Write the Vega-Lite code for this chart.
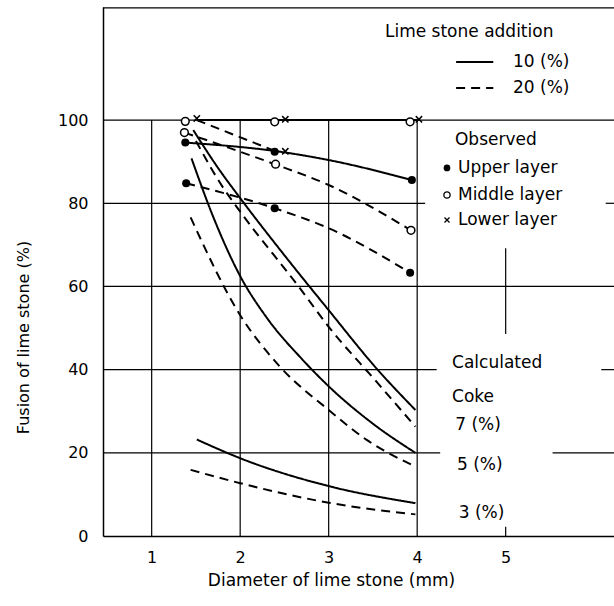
{
  "$schema": "https://vega.github.io/schema/vega-lite/v6.json",
  "width": 511,
  "height": 529,
  "autosize": {"type": "none"},
  "padding": {"left": 103, "top": 7, "right": 0, "bottom": 70},
  "background": "white",
  "config": {
    "view": {"stroke": null},
    "font": "DejaVu Sans",
    "text": {"font": "DejaVu Sans"}
  },
  "datasets": {
    "grid": [
      {"x": 1, "x2": 1, "y": 0, "y2": 100},
      {"x": 2, "x2": 2, "y": 0, "y2": 100},
      {"x": 3, "x2": 3, "y": 0, "y2": 100},
      {"x": 4, "x2": 4, "y": 0, "y2": 100},
      {"x": 5, "x2": 5, "y": 48.6, "y2": 69.2},
      {"x": 5, "x2": 5, "y": 0, "y2": 2.2},
      {"x": 0.45, "x2": 6.224, "y": 100, "y2": 100},
      {"x": 0.45, "x2": 4.09, "y": 80, "y2": 80},
      {"x": 6.13, "x2": 6.224, "y": 80, "y2": 80},
      {"x": 0.45, "x2": 6.224, "y": 60, "y2": 60},
      {"x": 0.45, "x2": 4.22, "y": 40, "y2": 40},
      {"x": 6.08, "x2": 6.224, "y": 40, "y2": 40},
      {"x": 0.45, "x2": 4.26, "y": 20, "y2": 20},
      {"x": 5.53, "x2": 6.224, "y": 20, "y2": 20},
      {"x": 0.45, "x2": 6.224, "y": 127.0, "y2": 127.0}
    ],
    "curves": [
      {"s": "c7_10", "lime": "10", "x": 1.47, "y": 97.6},
      {"s": "c7_10", "lime": "10", "x": 1.75, "y": 88.5},
      {"s": "c7_10", "lime": "10", "x": 2.03, "y": 80.4},
      {"s": "c7_10", "lime": "10", "x": 2.5, "y": 67.5},
      {"s": "c7_10", "lime": "10", "x": 3.0, "y": 54.3},
      {"s": "c7_10", "lime": "10", "x": 3.54, "y": 40.3},
      {"s": "c7_10", "lime": "10", "x": 3.98, "y": 30.3},
      {"s": "c7_20", "lime": "20", "x": 1.5, "y": 95.0},
      {"s": "c7_20", "lime": "20", "x": 1.8, "y": 84.0},
      {"s": "c7_20", "lime": "20", "x": 2.0, "y": 78.0},
      {"s": "c7_20", "lime": "20", "x": 2.66, "y": 60.0},
      {"s": "c7_20", "lime": "20", "x": 3.0, "y": 50.3},
      {"s": "c7_20", "lime": "20", "x": 3.54, "y": 37.1},
      {"s": "c7_20", "lime": "20", "x": 3.98, "y": 26.3},
      {"s": "c5_10", "lime": "10", "x": 1.45, "y": 90.8},
      {"s": "c5_10", "lime": "10", "x": 1.7, "y": 76.5},
      {"s": "c5_10", "lime": "10", "x": 2.0, "y": 62.5},
      {"s": "c5_10", "lime": "10", "x": 2.3, "y": 52.5},
      {"s": "c5_10", "lime": "10", "x": 2.7, "y": 42.5},
      {"s": "c5_10", "lime": "10", "x": 3.0, "y": 36.0},
      {"s": "c5_10", "lime": "10", "x": 3.5, "y": 27.0},
      {"s": "c5_10", "lime": "10", "x": 3.98, "y": 20.0},
      {"s": "c5_20", "lime": "20", "x": 1.44, "y": 76.6},
      {"s": "c5_20", "lime": "20", "x": 2.0, "y": 53.1},
      {"s": "c5_20", "lime": "20", "x": 2.45, "y": 40.7},
      {"s": "c5_20", "lime": "20", "x": 3.0, "y": 30.3},
      {"s": "c5_20", "lime": "20", "x": 3.43, "y": 23.1},
      {"s": "c5_20", "lime": "20", "x": 3.98, "y": 16.7},
      {"s": "c3_10", "lime": "10", "x": 1.51, "y": 23.2},
      {"s": "c3_10", "lime": "10", "x": 2.0, "y": 18.7},
      {"s": "c3_10", "lime": "10", "x": 3.0, "y": 12.0},
      {"s": "c3_10", "lime": "10", "x": 3.98, "y": 7.9},
      {"s": "c3_20", "lime": "20", "x": 1.44, "y": 15.9},
      {"s": "c3_20", "lime": "20", "x": 2.0, "y": 12.7},
      {"s": "c3_20", "lime": "20", "x": 3.0, "y": 8.0},
      {"s": "c3_20", "lime": "20", "x": 3.98, "y": 5.2},
      {"s": "u10", "lime": "10", "x": 1.38, "y": 94.6},
      {"s": "u10", "lime": "10", "x": 2.45, "y": 92.4},
      {"s": "u10", "lime": "10", "x": 3.0, "y": 90.4},
      {"s": "u10", "lime": "10", "x": 3.94, "y": 85.6},
      {"s": "u20", "lime": "20", "x": 1.39, "y": 84.8},
      {"s": "u20", "lime": "20", "x": 2.39, "y": 78.8},
      {"s": "u20", "lime": "20", "x": 3.0, "y": 74.0},
      {"s": "u20", "lime": "20", "x": 3.92, "y": 63.3},
      {"s": "m20", "lime": "20", "x": 1.37, "y": 97.0},
      {"s": "m20", "lime": "20", "x": 2.39, "y": 89.4},
      {"s": "m20", "lime": "20", "x": 3.0, "y": 84.4},
      {"s": "m20", "lime": "20", "x": 3.93, "y": 73.5},
      {"s": "l20", "lime": "20", "x": 1.51, "y": 100.0},
      {"s": "l20", "lime": "20", "x": 2.39, "y": 92.6},
      {"s": "l10", "lime": "10", "x": 1.51, "y": 100.0},
      {"s": "l10", "lime": "10", "x": 4.01, "y": 100.0}
    ],
    "obs": [
      {"layer": "Upper", "x": 1.38, "y": 94.6},
      {"layer": "Upper", "x": 1.39, "y": 84.8},
      {"layer": "Upper", "x": 2.39, "y": 92.4},
      {"layer": "Upper", "x": 2.39, "y": 78.8},
      {"layer": "Upper", "x": 3.94, "y": 85.6},
      {"layer": "Upper", "x": 3.92, "y": 63.3},
      {"layer": "Middle", "x": 1.38, "y": 99.7},
      {"layer": "Middle", "x": 1.37, "y": 97.0},
      {"layer": "Middle", "x": 2.39, "y": 99.6},
      {"layer": "Middle", "x": 2.4, "y": 89.4},
      {"layer": "Middle", "x": 3.92, "y": 99.6},
      {"layer": "Middle", "x": 3.93, "y": 73.5},
      {"layer": "Lower", "x": 1.51, "y": 100.4},
      {"layer": "Lower", "x": 2.51, "y": 100.2},
      {"layer": "Lower", "x": 2.51, "y": 92.5},
      {"layer": "Lower", "x": 4.02, "y": 100.2}
    ],
    "legsym": [
      {"layer": "Upper", "x": 4.337, "y": 88.5},
      {"layer": "Middle", "x": 4.337, "y": 82.0},
      {"layer": "Lower", "x": 4.337, "y": 76.0}
    ],
    "legendlines": [
      {"lime": "10", "x": 4.44, "x2": 4.86, "y": 114.0},
      {"lime": "20", "x": 4.44, "x2": 4.86, "y": 107.7}
    ],
    "notes": [
      {"x": 3.636, "y": 121.2, "text": "Lime stone addition"},
      {"x": 5.083, "y": 114.0, "text": "10 (%)"},
      {"x": 5.083, "y": 107.7, "text": "20 (%)"},
      {"x": 4.427, "y": 95.2, "text": "Observed"},
      {"x": 4.461, "y": 88.5, "text": "Upper layer"},
      {"x": 4.461, "y": 82.0, "text": "Middle layer"},
      {"x": 4.461, "y": 76.0, "text": "Lower layer"},
      {"x": 4.394, "y": 41.6, "text": "Calculated"},
      {"x": 4.394, "y": 33.4, "text": "Coke"},
      {"x": 4.43, "y": 26.7, "text": "7 (%)"},
      {"x": 4.45, "y": 17.1, "text": "5 (%)"},
      {"x": 4.47, "y": 5.5, "text": "3 (%)"}
    ]
  },
  "encoding": {
    "x": {
      "field": "x",
      "type": "quantitative",
      "scale": {"domain": [0.45, 6.224], "nice": false, "zero": false},
      "axis": {
        "values": [1, 2, 3, 4, 5],
        "ticks": false,
        "grid": false,
        "domainColor": "black",
        "domainWidth": 1.5,
        "labelFontSize": 16,
        "labelColor": "black",
        "labelFont": "DejaVu Sans",
        "labelPadding": 13,
        "title": "Diameter of lime stone  (mm)",
        "titleFont": "DejaVu Sans",
        "titleFontSize": 17,
        "titleFontWeight": "normal",
        "titleColor": "black",
        "titleX": 228,
        "titleY": 44,
        "titleAlign": "center",
        "titleBaseline": "middle"
      }
    },
    "y": {
      "field": "y",
      "type": "quantitative",
      "scale": {"domain": [0, 127.2], "nice": false, "zero": false},
      "axis": {
        "values": [0, 20, 40, 60, 80, 100],
        "ticks": false,
        "grid": false,
        "domainColor": "black",
        "domainWidth": 1.5,
        "labelFontSize": 16,
        "labelColor": "black",
        "labelFont": "DejaVu Sans",
        "labelPadding": 15,
        "title": "Fusion of lime stone  (%)",
        "titleFont": "DejaVu Sans",
        "titleFontSize": 16,
        "titleFontWeight": "normal",
        "titleColor": "black",
        "titleX": -80,
        "titleY": 330,
        "titleAlign": "center",
        "titleBaseline": "middle"
      }
    }
  },
  "layer": [
    {
      "data": {"name": "grid"},
      "mark": {"type": "rule", "color": "black", "strokeWidth": 1.2},
      "encoding": {
        "x2": {"field": "x2"},
        "y2": {"field": "y2"}
      }
    },
    {
      "data": {"name": "curves"},
      "mark": {"type": "line", "color": "black", "strokeWidth": 2, "interpolate": "monotone"},
      "encoding": {
        "detail": {"field": "s"},
        "strokeDash": {
          "field": "lime",
          "type": "nominal",
          "scale": {"domain": ["10", "20"], "range": [[1, 0], [9, 6]]},
          "legend": null
        }
      }
    },
    {
      "data": {"name": "legendlines"},
      "mark": {"type": "rule", "color": "black", "strokeWidth": 2},
      "encoding": {
        "x2": {"field": "x2"},
        "strokeDash": {
          "field": "lime",
          "type": "nominal",
          "scale": {"domain": ["10", "20"], "range": [[1, 0], [9, 6]]},
          "legend": null
        }
      }
    },
    {
      "data": {"name": "obs"},
      "transform": [{"filter": "datum.layer === 'Upper'"}],
      "mark": {"type": "point", "shape": "circle", "filled": true, "color": "black", "size": 65, "opacity": 1}
    },
    {
      "data": {"name": "obs"},
      "transform": [{"filter": "datum.layer === 'Middle'"}],
      "mark": {"type": "point", "shape": "circle", "filled": true, "fill": "white", "stroke": "black", "strokeWidth": 1.5, "size": 60, "opacity": 1}
    },
    {
      "data": {"name": "obs"},
      "transform": [{"filter": "datum.layer === 'Lower'"}],
      "mark": {"type": "point", "shape": "M-1,-1L1,1M-1,1L1,-1", "filled": false, "stroke": "black", "strokeWidth": 1.5, "size": 40, "opacity": 1}
    },
    {
      "data": {"name": "legsym"},
      "transform": [{"filter": "datum.layer === 'Upper'"}],
      "mark": {"type": "point", "shape": "circle", "filled": true, "color": "black", "size": 45, "opacity": 1}
    },
    {
      "data": {"name": "legsym"},
      "transform": [{"filter": "datum.layer === 'Middle'"}],
      "mark": {"type": "point", "shape": "circle", "filled": true, "fill": "white", "stroke": "black", "strokeWidth": 1.3, "size": 40, "opacity": 1}
    },
    {
      "data": {"name": "legsym"},
      "transform": [{"filter": "datum.layer === 'Lower'"}],
      "mark": {"type": "point", "shape": "M-1,-1L1,1M-1,1L1,-1", "filled": false, "stroke": "black", "strokeWidth": 1.3, "size": 25, "opacity": 1}
    },
    {
      "data": {"name": "notes"},
      "mark": {"type": "text", "align": "left", "baseline": "middle", "fontSize": 17, "font": "DejaVu Sans", "color": "black"},
      "encoding": {"text": {"field": "text"}}
    }
  ]
}
